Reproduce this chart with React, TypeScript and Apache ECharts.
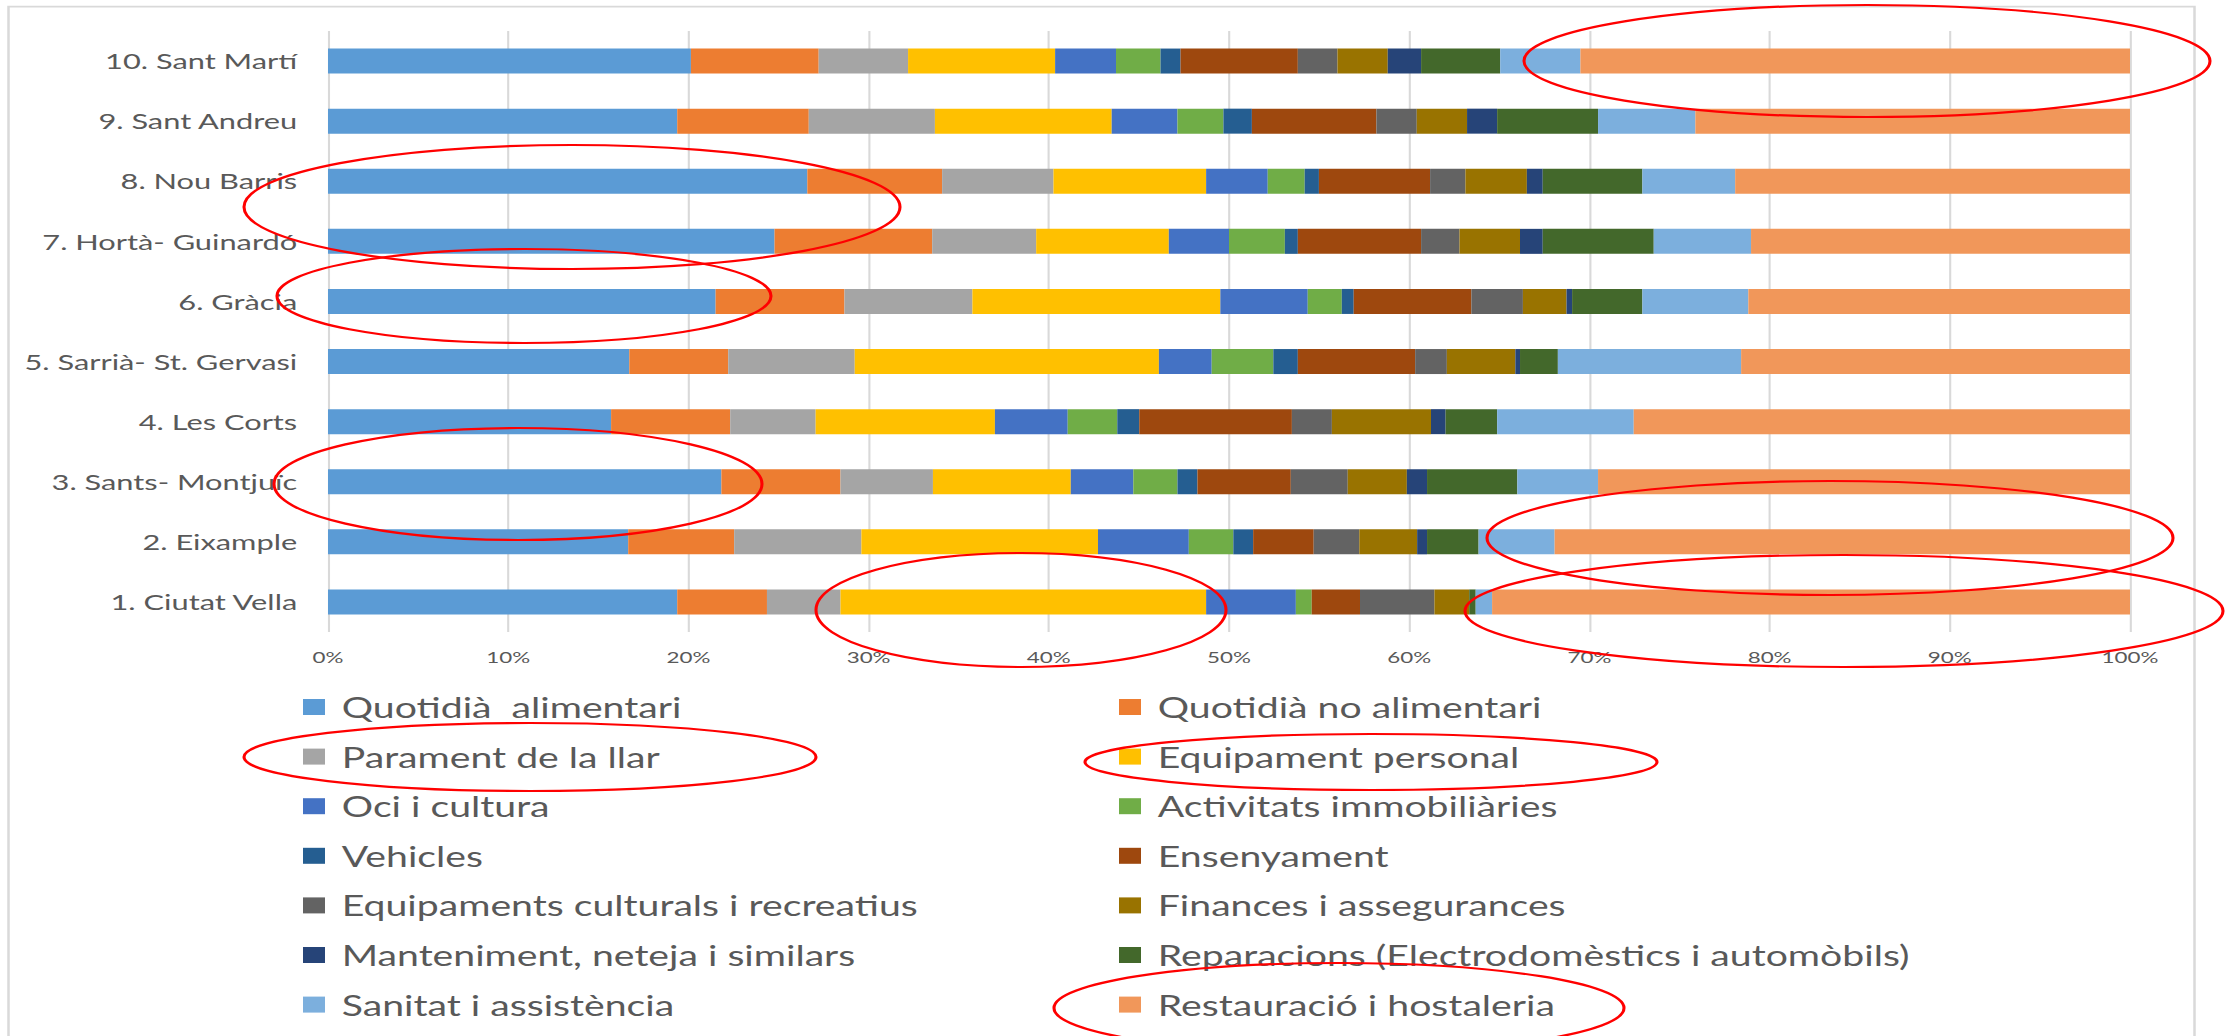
import React, { useEffect, useRef } from "react";
import * as echarts from "echarts";

const SX = 1.4; // the reference is stretched horizontally
const W = 2231;
const H = 1036;

const districts = [
  "1. Ciutat Vella",
  "2. Eixample",
  "3. Sants- Montjuïc",
  "4. Les Corts",
  "5. Sarrià- St. Gervasi",
  "6. Gràcia",
  "7. Hortà- Guinardó",
  "8. Nou Barris",
  "9. Sant Andreu",
  "10. Sant Martí",
];

const seriesNames = [
  "Quotidià  alimentari",
  "Quotidià no alimentari",
  "Parament de la llar",
  "Equipament personal",
  "Oci i cultura",
  "Activitats immobiliàries",
  "Vehicles",
  "Ensenyament",
  "Equipaments culturals i recreatius",
  "Finances i assegurances",
  "Manteniment, neteja i similars",
  "Reparacions (Electrodomèstics i automòbils)",
  "Sanitat i assistència",
  "Restauració i hostaleria",
];

const colors = [
  "#5B9BD5", "#ED7D31", "#A5A5A5", "#FFC000", "#4472C4", "#70AD47", "#255E91",
  "#9E480E", "#636363", "#997300", "#264478", "#43682B", "#7CAFDD", "#F1975A",
];

// values in %, districts 1..10
const quotidiaAlimentari = [19.38, 16.66, 21.83, 15.71, 16.72, 21.51, 24.78, 26.6, 19.38, 20.14];
const quotidiaNoAlimentari = [4.98, 5.88, 6.61, 6.61, 5.49, 7.15, 8.75, 7.48, 7.3, 7.09];
const paramentLlar = [4.08, 7.06, 5.13, 4.74, 7.02, 7.1, 5.77, 6.18, 7.0, 4.96];
const equipamentPersonal = [20.29, 13.13, 7.65, 9.95, 16.88, 13.76, 7.36, 8.47, 9.81, 8.16];
const ociCultura = [4.98, 5.04, 3.47, 4.04, 2.93, 4.85, 3.34, 3.42, 3.65, 3.38];
const activitatsImmobiliaries = [0.88, 2.47, 2.45, 2.75, 3.42, 1.89, 3.1, 2.05, 2.55, 2.47];
const vehicles = [0, 1.1, 1.11, 1.22, 1.36, 0.66, 0.72, 0.79, 1.58, 1.11];
const ensenyament = [2.68, 3.36, 5.18, 8.47, 6.51, 6.53, 6.84, 6.17, 6.91, 6.51];
const equipamentsCulturals = [4.13, 2.53, 3.16, 2.22, 1.76, 2.86, 2.13, 1.96, 2.24, 2.2];
const finances = [1.93, 3.21, 3.28, 5.5, 3.8, 2.42, 3.36, 3.41, 2.79, 2.79];
const manteniment = [0, 0.55, 1.12, 0.81, 0.26, 0.31, 1.26, 0.88, 1.67, 1.85];
const reparacions = [0.36, 2.86, 5.01, 2.86, 2.1, 3.9, 6.16, 5.53, 5.6, 4.39];
const sanitat = [0.91, 4.22, 4.48, 7.58, 10.17, 5.88, 5.4, 5.15, 5.4, 4.45];
const restauracio = [35.4, 31.93, 29.52, 27.54, 21.58, 21.18, 21.03, 21.91, 24.12, 30.5];

const seriesValues = [
  quotidiaAlimentari, quotidiaNoAlimentari, paramentLlar, equipamentPersonal,
  ociCultura, activitatsImmobiliaries, vehicles, ensenyament, equipamentsCulturals,
  finances, manteniment, reparacions, sanitat, restauracio,
];

// red annotation ellipses, in page pixels: [cx, cy, rx, ry]
const ellipses = [
  [1867, 61, 343, 56],
  [572, 207, 328, 62],
  [524, 296, 247, 47],
  [518, 484, 244, 56],
  [1830, 538, 343, 57],
  [1844, 611, 379, 56],
  [1021, 610, 205, 57],
  [530, 757, 286, 34],
  [1371, 762, 286, 28],
  [1339, 1008, 285, 45],
];

const FONT = "Lato, 'Open Sans', sans-serif";

export default function App() {
  const ref = useRef<HTMLDivElement>(null);
  useEffect(() => {
    const chart = echarts.init(ref.current!, null, { renderer: "svg" });
    const legendCommon = {
      orient: "vertical",
      icon: "rect",
      itemWidth: 22 / SX,
      itemHeight: 16,
      itemGap: 19.6,
      selectedMode: false,
      textStyle: {
        fontFamily: FONT,
        fontSize: 28,
        color: "#595959",
        lineHeight: 30,
        padding: [0, 0, 0, 7],
      },
    };
    const option: any = {
      animation: false,
      backgroundColor: "#ffffff",
      grid: { left: 328 / SX, top: 31, width: 1802 / SX, height: 601, containLabel: false },
      xAxis: {
        type: "value",
        min: 0,
        max: 100,
        interval: 10,
        axisLine: { show: false },
        axisTick: { show: false },
        splitLine: { show: true, lineStyle: { color: "#d9d9d9", width: 1.5 } },
        axisLabel: {
          formatter: "{value}%",
          fontFamily: FONT,
          fontSize: 16,
          color: "#595959",
          margin: 17,
        },
      },
      yAxis: {
        type: "category",
        data: districts,
        axisLine: { show: false },
        axisTick: { show: false },
        splitLine: { show: false },
        axisLabel: {
          fontFamily: FONT,
          fontSize: 22,
          color: "#595959",
          margin: 22,
        },
      },
      legend: [
        {
          ...legendCommon,
          left: 296 / SX,
          top: 687,
          data: seriesNames.filter((_, i) => i % 2 === 0),
        },
        {
          ...legendCommon,
          left: 1112 / SX,
          top: 687,
          data: seriesNames.filter((_, i) => i % 2 === 1),
        },
      ],
      series: seriesNames.map((name, i) => ({
        type: "bar",
        name,
        stack: "total",
        data: seriesValues[i],
        barWidth: 25,
        itemStyle: { color: colors[i] },
        emphasis: { disabled: true },
      })),
      graphic: [
        {
          type: "rect",
          silent: true,
          z: -1,
          shape: { x: 8.5 / SX, y: 6.7, width: (2194.5 - 8.5) / SX, height: 1100 },
          style: { fill: "none", stroke: "#d9d9d9", lineWidth: 1.8 },
        },
        ...ellipses.map(([cx, cy, rx, ry]) => ({
          type: "ellipse",
          silent: true,
          z: 100,
          shape: { cx: cx / SX, cy, rx: rx / SX, ry },
          style: { fill: "none", stroke: "#ff0000", lineWidth: 2.2 },
        })),
      ],
    };
    chart.setOption(option);
    return () => chart.dispose();
  }, []);
  return (
    <div
      style={{
        position: "fixed",
        left: 0,
        top: 0,
        width: W,
        height: H,
        overflow: "hidden",
        background: "#ffffff",
      }}
    >
      <div
        ref={ref}
        style={{
          width: W / SX,
          height: H,
          transform: `scaleX(${SX})`,
          transformOrigin: "0 0",
        }}
      />
    </div>
  );
}
